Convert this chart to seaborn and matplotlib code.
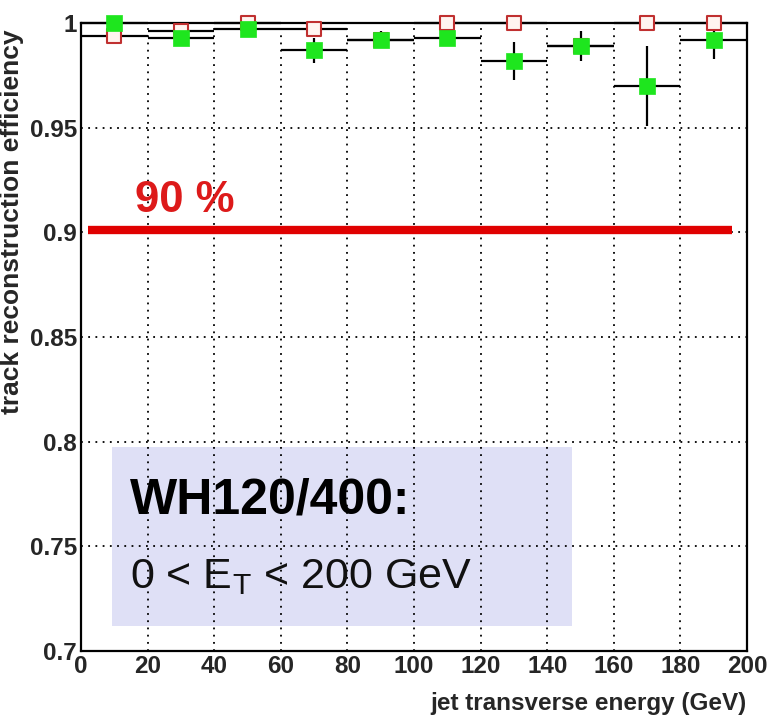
import matplotlib
matplotlib.use("Agg")
import matplotlib.pyplot as plt
import seaborn as sns
import numpy as np
import pandas as pd
from matplotlib.patches import Rectangle
from matplotlib.ticker import MultipleLocator, FixedLocator

# ---- data ----
bin_centers = [10, 30, 50, 70, 90, 110, 130, 150, 170, 190]
bin_halfwidth = [10] * 10
green_eff = [1.000, 0.993, 0.997, 0.987, 0.992, 0.993, 0.982, 0.989, 0.970, 0.992]
green_err = [0.002, 0.003, 0.002, 0.006, 0.004, 0.004, 0.009, 0.007, 0.019, 0.009]
red_eff = [0.994, 0.996, 1.000, 0.997, 0.992, 1.000, 1.000, 0.989, 1.000, 1.000]
red_err = [0.003, 0.002, 0.001, 0.002, 0.003, 0.0005, 0.0005, 0.003, 0.0005, 0.0005]
x_ticks = [0, 20, 40, 60, 80, 100, 120, 140, 160, 180, 200]
y_ticks = [0.7, 0.75, 0.8, 0.85, 0.9, 0.95, 1.0]
y_tick_labels = ["0.7", "0.75", "0.8", "0.85", "0.9", "0.95", "1"]
threshold_level = 0.901
threshold_x = [2, 195.5]
threshold_label = "90 %"
box_title = "WH120/400:"
box_sub = r"0 < E$_\mathregular{T}$ < 200 GeV"
x_label = "jet transverse energy (GeV)"
y_label = "track reconstruction efficiency"

df_g = pd.DataFrame({"x": bin_centers, "y": green_eff})
df_r = pd.DataFrame({"x": bin_centers, "y": red_eff})

sns.set_style("white")
plt.rcParams["font.family"] = ["Liberation Sans", "DejaVu Sans"]
plt.rcParams["mathtext.fontset"] = "custom"
plt.rcParams["mathtext.rm"] = "Liberation Sans"

fig = plt.figure(figsize=(7.72, 7.15), dpi=100)
ax = fig.add_axes([0.105, 0.0895, 0.8626, 0.8783])
ax.set_xlim(0, 200)
ax.set_ylim(0.7, 1.0)

# info box
ax.add_patch(Rectangle((9.3, 0.712), 138.2, 0.0854, facecolor="#dfe0f6",
                       edgecolor="none", zorder=1))

# grid
for xv in x_ticks[1:-1]:
    ax.axvline(xv, color="black", lw=1.3, ls=(0, (1, 3)), zorder=1.5)
for yv in y_ticks[1:-1]:
    ax.axhline(yv, color="black", lw=1.3, ls=(0, (1, 3)), zorder=1.5)

# threshold line
ax.plot(threshold_x, [threshold_level, threshold_level], color="#e00000",
        lw=6, solid_capstyle="butt", zorder=2)
ax.text(16.2, 0.915, threshold_label, color="#dd1a1a", fontsize=31.5,
        fontweight="bold", ha="left", va="center", zorder=3)

# error bars
ax.errorbar(bin_centers, red_eff, xerr=bin_halfwidth, yerr=red_err, fmt="none",
            ecolor="black", elinewidth=1.6, capsize=0, zorder=3, clip_on=False)
ax.errorbar(bin_centers, green_eff, xerr=bin_halfwidth, yerr=green_err, fmt="none",
            ecolor="black", elinewidth=1.6, capsize=0, zorder=3, clip_on=False)

# markers
sns.scatterplot(data=df_r, x="x", y="y", ax=ax, marker="s", s=95,
                facecolor="#fff4f0", edgecolor="#c03030", linewidth=1.5,
                zorder=4, clip_on=False, legend=False)
sns.scatterplot(data=df_g, x="x", y="y", ax=ax, marker="s", s=120,
                color="#1ee61e", edgecolor="#1ee61e", linewidth=0.5,
                zorder=5, clip_on=False, legend=False)

# box texts
ax.text(14.7, 0.772, box_title, fontsize=36, fontweight="bold", color="black",
        ha="left", va="center", zorder=3)
ax.text(14.7, 0.7355, box_sub, fontsize=31, color="#111111",
        ha="left", va="center", zorder=3)

# axes styling
ax.xaxis.set_major_locator(FixedLocator(x_ticks))
ax.xaxis.set_minor_locator(MultipleLocator(4))
ax.yaxis.set_major_locator(FixedLocator(y_ticks))
ax.yaxis.set_minor_locator(MultipleLocator(0.01))
ax.set_yticklabels(y_tick_labels)
ax.set_xticklabels([str(v) for v in x_ticks])
ax.tick_params(axis="both", which="major", direction="in", length=12, width=1.5,
               labelsize=17.5, pad=3, color="black")
ax.tick_params(axis="both", which="minor", direction="in", length=7, width=1.5,
               color="black")
ax.tick_params(top=False, right=False, which="both")
for lab in ax.get_xticklabels() + ax.get_yticklabels():
    lab.set_fontweight("bold")
for sp in ax.spines.values():
    sp.set_visible(True)
    sp.set_color("black")
    sp.set_linewidth(1.6)

ax.set_xlabel("")
ax.set_ylabel("")
ax.text(1.0, -0.065, x_label, transform=ax.transAxes, ha="right", va="top",
        fontsize=17.5, fontweight="bold")
ax.text(-0.104, 0.99, y_label, transform=ax.transAxes, ha="center", va="top",
        rotation=90, fontsize=19, fontweight="bold")

fig.savefig("out.png", dpi=100, facecolor="white")
